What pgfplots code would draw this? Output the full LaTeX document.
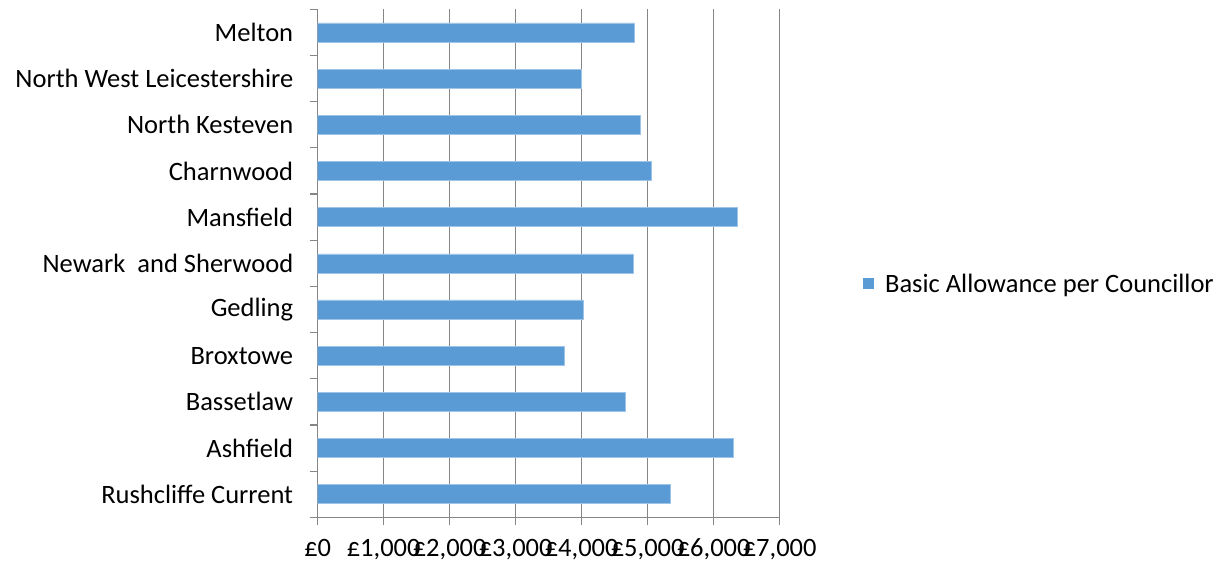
\documentclass[border=0pt]{standalone}
\usepackage{fontspec}
\setmainfont{Carlito}
\usepackage{pgfplots}
\pgfplotsset{compat=1.18}
\definecolor{barblue}{HTML}{5B9BD5}
\definecolor{axgray}{HTML}{868686}
\begin{document}
\begin{tikzpicture}[font=\fontsize{26.5}{30}\selectfont]
\path[use as bounding box] (-317.7pt,-53pt) rectangle (909.3pt,517.3pt);
\begin{axis}[
  at={(0pt,0pt)}, anchor=south west,
  scale only axis, width=462pt, height=508pt,
  xmin=0, xmax=7000, ymin=-0.5, ymax=10.5,
  xbar, bar width=19pt,
  axis x line*=bottom, axis y line*=left,
  axis line style={axgray, line width=1pt},
  xtick={0,1000,...,7000},
  xticklabels={{£0},{£1,000},{£2,000},{£3,000},{£4,000},{£5,000},{£6,000},{£7,000}},
  xmajorgrids, grid style={axgray, line width=1pt},
  ytick={0,...,10},
  yticklabels={Rushcliffe Current, Ashfield, Bassetlaw, Broxtowe, Gedling, {Newark~ and Sherwood}, Mansfield, Charnwood, North Kesteven, North West Leicestershire, Melton},
  minor ytick={-0.5,0.5,...,10.5},
  tick align=outside,
  major tick length=8pt, minor tick length=8pt,
  every major y tick/.append style={draw=none},
  every minor y tick/.append style={draw=axgray, line width=1.2pt},
  xtick style={axgray, line width=1pt},
  yticklabel style={xshift=-13pt},
  xticklabel style={yshift=-10pt},
  legend style={at={(1.5623,0.46)}, anchor=center, draw=none, fill=none, legend cell align=left},
  legend image code/.code={\fill[barblue, draw=none] (0pt,-5pt) rectangle (11pt,6pt); \path[draw=none, fill=none] (0pt,0pt) -- (20pt,0pt);},
]
\addplot[fill=barblue, draw=barblue!60!white, line width=0.5pt] coordinates {
  (5335,0) (6290,1) (4660,2) (3730,3) (4020,4) (4775,5) (6360,6) (5060,7) (4890,8) (4000,9) (4790,10)
};
\addlegendentry{Basic Allowance per Councillor}
\end{axis}
\end{tikzpicture}
\end{document}
